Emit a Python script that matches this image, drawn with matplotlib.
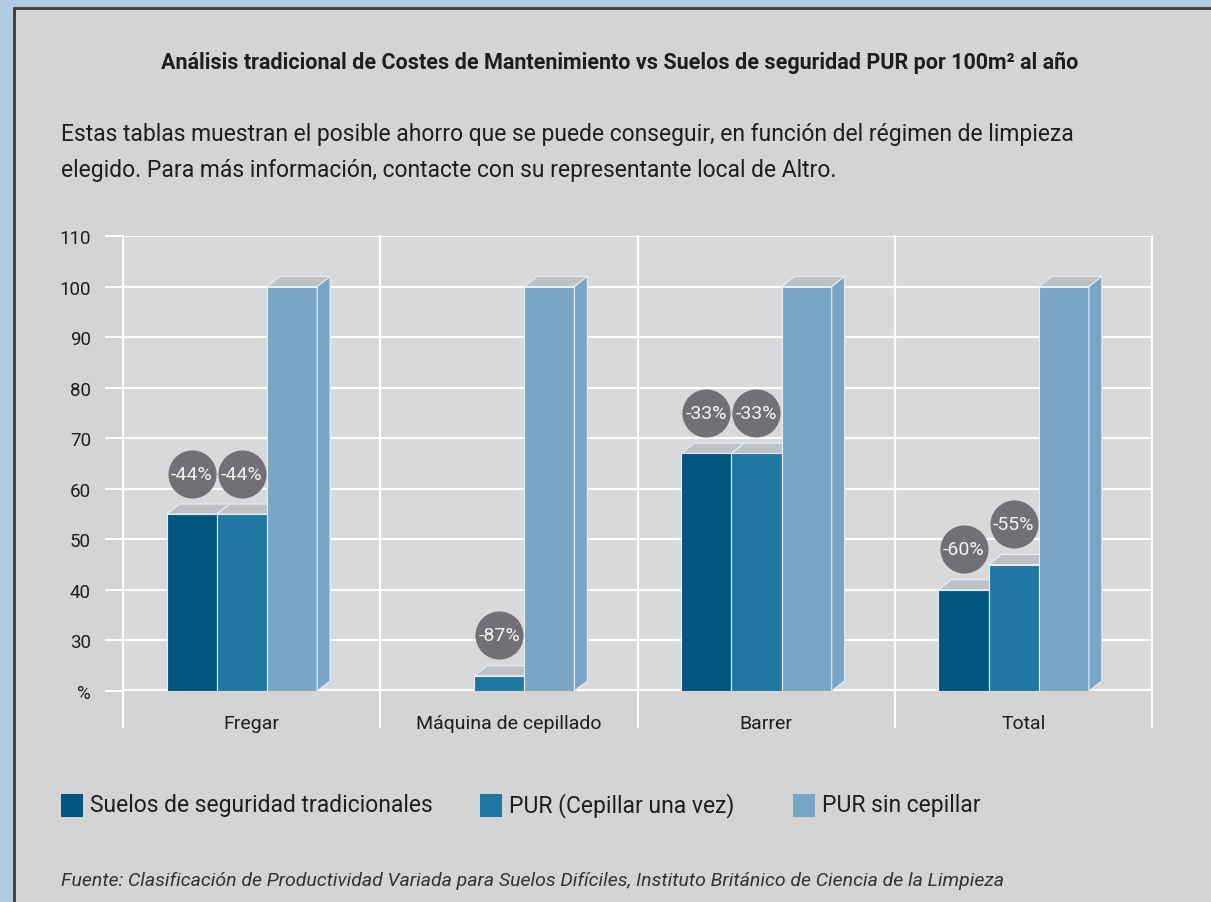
import matplotlib
matplotlib.use("Agg")
import matplotlib.pyplot as plt
from matplotlib.patches import Rectangle, Polygon

plt.rcParams['font.family'] = ['Liberation Sans Narrow', 'Roboto', 'DejaVu Sans']

categories = ['Fregar', 'Máquina de cepillado', 'Barrer', 'Total']
series_names = ['Suelos de seguridad tradicionales', 'PUR (Cepillar una vez)', 'PUR sin cepillar']
trad = [55, None, 67, 40]
pur_once = [55, 23, 67, 45]
pur_none = [100, 100, 100, 100]
trad_badges = ['-44%', None, '-33%', '-60%']
pur_badges = ['-44%', '-87%', '-33%', '-55%']
yticks = [20, 30, 40, 50, 60, 70, 80, 90, 100, 110]
ytick_labels = ['%', '30', '40', '50', '60', '70', '80', '90', '100', '110']

colors = ['#02557f', '#1f77a2', '#79a5c7']
top_color = '#c0c1c3'
badge_color = '#717074'
text_color = '#1e1e1e'
W, H = 1211, 903

fig = plt.figure(figsize=(W / 100, H / 100), dpi=100)
fig.patch.set_facecolor('#b4cce2')
# grey panel with dark border
fig.add_artist(Rectangle((14 / W, -0.05), 1.1, 1 - 9 / H + 0.05, transform=fig.transFigure,
                         facecolor='#d4d4d4', edgecolor='#3a3a3a', lw=2, zorder=0))

ax = fig.add_axes([123 / W, 1 - 692 / H, (1152 - 123) / W, (692 - 237) / H])
ax.set_facecolor('#d8d9db')
ax.set_xlim(0, 4)
ax.set_ylim(20, 110)
for s in ax.spines.values():
    s.set_visible(False)

ax.set_yticks(yticks)
ax.set_yticklabels(ytick_labels, fontsize=13.5, color=text_color)
ax.tick_params(axis='y', length=13, width=1.5, color='white', pad=10)
ax.set_xticks([])
for y in yticks:
    ax.axhline(y, color='white', lw=1.5 if y > 20 else 3, zorder=1)
for x in range(5):
    ax.axvline(x, ymin=-0.08, ymax=1, color='white', lw=1.5, clip_on=False, zorder=1)

bw = 0.195
off = 0.17
dx, dy = 0.05, 2.0
base = 20


def bar3d(x0, v, color, side):
    ax.add_patch(Rectangle((x0, base), bw, v - base, facecolor=color, edgecolor='#e8eef4',
                           lw=0.8, zorder=3))
    ax.add_patch(Polygon([(x0, v), (x0 + bw, v), (x0 + bw + dx, v + dy), (x0 + dx, v + dy)],
                         closed=True, facecolor=top_color, edgecolor='#e8eef4', lw=0.8, zorder=3))
    if side:
        ax.add_patch(Polygon([(x0 + bw, base), (x0 + bw, v), (x0 + bw + dx, v + dy),
                              (x0 + bw + dx, base + dy)], closed=True, facecolor=color,
                             edgecolor='#e8eef4', lw=0.8, zorder=3))


for i, cat in enumerate(categories):
    vals = [trad[i], pur_once[i], pur_none[i]]
    for j, v in enumerate(vals):
        if v is None:
            continue
        bar3d(i + off + j * bw, v, colors[j], j == 2)
    for j, lab in enumerate([trad_badges[i], pur_badges[i]]):
        if lab is None:
            continue
        cx = i + off + j * bw + bw / 2
        cy = vals[j] + 8
        ax.scatter([cx], [cy], s=1200, color=badge_color, zorder=2.5, linewidths=0)
        ax.text(cx, cy, lab, color='#f4f4f4', fontsize=14, ha='center', va='center', zorder=2.6)
    ax.text(i + 0.5, 13.7, cat, ha='center', va='center', fontsize=14, color=text_color,
            clip_on=False)

fig.text(620 / W, 1 - 63 / H, 'Análisis tradicional de Costes de Mantenimiento vs Suelos de seguridad PUR por 100m² al año',
         ha='center', va='center', fontsize=15.5, fontweight='bold', color=text_color)
fig.text(61 / W, 1 - 135 / H, 'Estas tablas muestran el posible ahorro que se puede conseguir, en función del régimen de limpieza',
         ha='left', va='center', fontsize=16.5, color=text_color)
fig.text(61 / W, 1 - 170 / H, 'elegido. Para más información, contacte con su representante local de Altro.',
         ha='left', va='center', fontsize=16.5, color=text_color)

# legend
leg_x = [61, 480, 793]
for k, name in enumerate(series_names):
    fig.add_artist(Rectangle((leg_x[k] / W, 1 - 818 / H), 22 / W, 23 / H, transform=fig.transFigure,
                             facecolor=colors[k], edgecolor='none'))
    fig.text((leg_x[k] + 29) / W, 1 - 806 / H, name, ha='left', va='center', fontsize=16.5,
             color=text_color)

fig.text(61 / W, 1 - 881 / H,
         'Fuente: Clasificación de Productividad Variada para Suelos Difíciles, Instituto Británico de Ciencia de la Limpieza',
         ha='left', va='center', fontsize=14, style='italic', color='#333333')

fig.savefig('out.png', dpi=100, facecolor=fig.get_facecolor())
